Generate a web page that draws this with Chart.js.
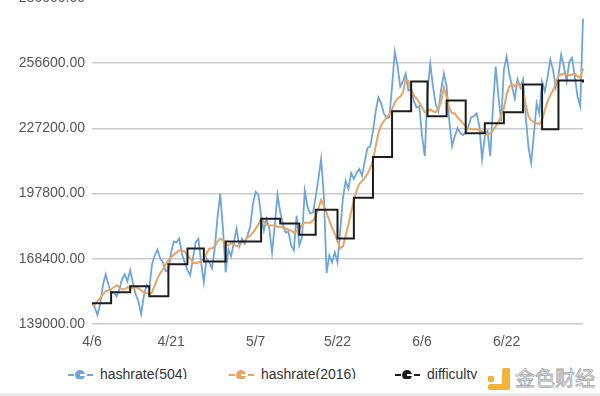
<!DOCTYPE html>
<html>
<head>
<meta charset="utf-8">
<script src="https://cdn.jsdelivr.net/npm/chart.js@4.4.1/dist/chart.umd.min.js"></script>
<style>
  html, body { margin: 0; padding: 0; background: #fff; }
  body { width: 600px; height: 396px; position: relative; overflow: hidden; font-family: "Liberation Sans", Arial, sans-serif; }
  #wrap { position: absolute; left: 0; top: -20px; width: 600px; height: 374px; }
  #legend { position: absolute; left: 0; top: 366px; width: 485px; height: 13px; overflow: hidden; font-size: 14px; color: #333; }
  .item { position: absolute; top: 0; height: 16px; line-height: 16px; white-space: nowrap; }
  .item .dl { position: absolute; left: 0; top: 8px; width: 6px; height: 2px; }
  .item .dr { position: absolute; left: 19px; top: 8px; width: 6px; height: 2px; }
  .item .dot { position: absolute; left: 7px; top: 4px; width: 10px; height: 10px; border-radius: 50%; }
  .item .dot:after { content: ""; position: absolute; left: 5px; top: 4px; width: 6px; height: 1.5px; background: #fff; }
  .item .txt { position: absolute; left: 32px; top: 0; }
  #wm { position: absolute; left: 488px; top: 368px; width: 110px; height: 24px; }
  #wm .b1 { position: absolute; left: 14px; top: 0; width: 8px; height: 22px; background: #f3b338; border-radius: 2px; }
  #wm .b2 { position: absolute; left: 0; top: 16px; width: 22px; height: 6px; background: #f3b338; border-radius: 2px; }
  #wm .b3 { position: absolute; left: 0; top: 8px; width: 6px; height: 6px; background: #f3b338; border-radius: 1px; }
  #wm .t { position: absolute; left: 27px; top: -2px; font-family: "Noto Sans CJK SC", sans-serif; font-size: 20px; line-height: 24px; color: #f4f4f4; -webkit-text-stroke: 0.8px #a8a8a8; }
  #bottomline { position: absolute; left: 0; top: 393px; width: 600px; height: 3px; background: #ececec; }
</style>
</head>
<body>
<div id="wrap"><canvas id="chart"></canvas></div>
<div id="legend">
  <div class="item" style="left:68px"><div class="dl" style="background:#6ea6da"></div><div class="dot" style="background:#6ea6da"></div><div class="dr" style="background:#6ea6da"></div><span class="txt">hashrate(504)</span></div>
  <div class="item" style="left:229px"><div class="dl" style="background:#e9a462"></div><div class="dot" style="background:#e9a462"></div><div class="dr" style="background:#e9a462"></div><span class="txt">hashrate(2016)</span></div>
  <div class="item" style="left:395px"><div class="dl" style="background:#1c1c1c"></div><div class="dot" style="background:#1c1c1c"></div><div class="dr" style="background:#1c1c1c"></div><span class="txt">difficulty</span></div>
</div>
<div id="wm"><div class="b1"></div><div class="b2"></div><div class="b3"></div><span class="t">金色财经</span></div>
<div id="bottomline"></div>
<script>
var dateLabels = ['4/6', '4/21', '5/7', '5/22', '6/6', '6/22'];
var dateLabelIndex = [0, 29, 60, 90, 121, 152];

var hashrate504 = [
  148400, 146600, 143000, 148000, 156500, 161400, 156900, 152900, 153300, 151500,
  154700, 159200, 161400, 158300, 163200, 157400, 152400, 149300, 143500, 151500,
  156500, 155100, 165900, 169900, 172600, 168600, 166800, 162800, 163200, 171300,
  176200, 175800, 177500, 170400, 166800, 163200, 161000, 168600, 175800, 177500,
  166800, 157800, 168600, 166800, 164100, 173100, 187000, 197700, 182000, 162300,
  172600, 169500, 175800, 182000, 174000, 177500, 175300, 178900, 182900, 193200,
  198600, 197300, 187900, 181100, 186500, 182000, 171300, 183400, 197300, 189600,
  183800, 180200, 180700, 174400, 172200, 187900, 174400, 178400, 199100, 191900,
  188800, 189200, 196400, 204400, 213400, 196800, 162000, 169900, 166800, 171300,
  166800, 181100, 195900, 203500, 200000, 207100, 204400, 207100, 208900, 205800,
  212500, 218300, 219200, 226000, 234900, 241200, 238500, 234000, 231800, 232200,
  246100, 261800, 255500, 246100, 248400, 251900, 244300, 244800, 239400, 236700,
  237200, 223700, 214700, 243900, 256400, 246100, 238100, 234900, 244800, 251900,
  246100, 230400, 219200, 223700, 227300, 225100, 224200, 225500, 228200, 232200,
  232700, 234000, 228200, 213400, 223700, 226000, 214700, 237200, 255100, 241600,
  230400, 253700, 259600, 251500, 246100, 240700, 249300, 245700, 249300, 232700,
  218800, 211600, 224600, 238500, 234000, 248400, 243900, 250200, 258200, 253700,
  245700, 251100, 260500, 255100, 248400, 257300, 259100, 250600, 241600, 237200,
  276600
];

var hashrate2016 = [
  147500, 148000, 149300, 150700, 152400, 153800, 154200, 154700, 155600, 156500,
  155600, 154700, 154700, 155600, 155100, 155100, 155600, 155100, 154200, 153300,
  152900, 152400, 153300, 156500, 159600, 161900, 163700, 165900, 167700, 169000,
  170400, 171300, 172200, 172200, 171700, 169900, 168600, 166800, 166300, 166800,
  167200, 168600, 170800, 173100, 173100, 174000, 176200, 177500, 176600, 175300,
  174400, 175300, 175300, 174000, 174400, 175800, 176600, 178000, 178900, 180200,
  182000, 183800, 186500, 185200, 183800, 183400, 183400, 183400, 182900, 182900,
  182500, 182000, 181600, 181100, 180200, 180700, 182000, 183400, 184700, 184700,
  184700, 185600, 187400, 191000, 195000, 192300, 189200, 185600, 182500, 179800,
  176200, 173100, 174000, 178900, 183800, 189600, 194600, 199100, 202200, 203500,
  204900, 206700, 209400, 212500, 219200, 225100, 228600, 230400, 232200, 233600,
  235800, 238900, 240700, 241600, 243400, 249300, 248400, 244800, 242100, 240700,
  238900, 236700, 234500, 234900, 235800, 234900, 234500, 236300, 239400, 245700,
  241200, 236300, 234000, 234000, 232200, 230900, 229500, 228200, 227300, 226800,
  226800, 226800, 226400, 226000, 225100, 224200, 225100, 226400, 228200, 230000,
  233100, 236300, 242500, 246100, 247000, 246100, 247900, 246100, 244300, 238100,
  232700, 230900, 230000, 229500, 229100, 230900, 235400, 239400, 242100, 244300,
  247500, 250600, 251500, 251900, 251500, 251100, 251500, 251900, 250600, 250200,
  254200
];

var difficulty = [
  148400, 148400, 148400, 148400, 148400, 148400, 148400, 153300, 153300, 153300,
  153300, 153300, 153300, 153300, 156000, 156000, 156000, 156000, 156000, 156000,
  156000, 151500, 151500, 151500, 151500, 151500, 151500, 151500, 165900, 165900,
  165900, 165900, 165900, 165900, 165900, 173100, 173100, 173100, 173100, 173100,
  173100, 167200, 167200, 167200, 167200, 167200, 167200, 167200, 167200, 176200,
  176200, 176200, 176200, 176200, 176200, 176200, 176200, 176200, 176200, 176200,
  176200, 176200, 186500, 186500, 186500, 186500, 186500, 186500, 186500, 184300,
  184300, 184300, 184300, 184300, 184300, 184300, 179300, 179300, 179300, 179300,
  179300, 179300, 190500, 190500, 190500, 190500, 190500, 190500, 190500, 190500,
  177500, 177500, 177500, 177500, 177500, 177500, 195900, 195900, 195900, 195900,
  195900, 195900, 195900, 214300, 214300, 214300, 214300, 214300, 214300, 214300,
  234900, 234900, 234900, 234900, 234900, 234900, 234900, 248400, 248400, 248400,
  248400, 248400, 248400, 232700, 232700, 232700, 232700, 232700, 232700, 232700,
  239800, 239800, 239800, 239800, 239800, 239800, 239800, 225000, 225000, 225000,
  225000, 225000, 225000, 225000, 229500, 229500, 229500, 229500, 229500, 229500,
  229500, 234500, 234500, 234500, 234500, 234500, 234500, 234500, 247000, 247000,
  247000, 247000, 247000, 247000, 247000, 226800, 226800, 226800, 226800, 226800,
  226800, 248800, 248800, 248800, 248800, 248800, 248800, 248800, 248800, 248800,
  247900
];

// x labels: only a few dates are shown under the axis
var xLabels = [];
for (var i = 0; i < hashrate504.length; i++) {
  xLabels.push('');
}
for (var j = 0; j < dateLabels.length; j++) {
  xLabels[dateLabelIndex[j]] = dateLabels[j];
}

var tickFont = { family: '"Liberation Sans", Arial, sans-serif', size: 14 };

var config = {
  type: 'line',
  data: {
    labels: xLabels,
    datasets: [
      {
        label: 'difficulty',
        data: difficulty,
        borderColor: '#1c1c1c',
        borderWidth: 2,
        stepped: true,
        pointRadius: 0,
        fill: false
      },
      {
        label: 'hashrate(2016)',
        data: hashrate2016,
        borderColor: '#e9a462',
        borderWidth: 2,
        pointRadius: 0,
        fill: false
      },
      {
        label: 'hashrate(504)',
        data: hashrate504,
        borderColor: '#6ea6da',
        borderWidth: 1.8,
        pointRadius: 0,
        fill: false
      }
    ]
  },
  options: {
    responsive: true,
    maintainAspectRatio: false,
    animation: false,
    layout: { padding: { left: 0, right: 17, top: 18, bottom: 0 } },
    plugins: {
      legend: { display: false },
      tooltip: { enabled: false }
    },
    scales: {
      x: {
        grid: { display: false, drawTicks: false },
        border: { display: false },
        ticks: {
          autoSkip: false,
          maxRotation: 0,
          minRotation: 0,
          padding: 10,
          color: '#555',
          font: tickFont
        },
        afterFit: function (scale) { scale.height = 30; }
      },
      y: {
        min: 139000,
        max: 286000,
        grid: { color: '#cbcbcb', lineWidth: 1.5, drawTicks: false },
        border: { display: false },
        ticks: {
          stepSize: 29400,
          padding: 7,
          color: '#555',
          font: tickFont,
          callback: function (v) { return v.toFixed(2); }
        },
        afterFit: function (scale) { scale.width = 92; }
      }
    }
  }
};

var chart = new Chart(document.getElementById('chart'), config);
</script>
</body>
</html>
